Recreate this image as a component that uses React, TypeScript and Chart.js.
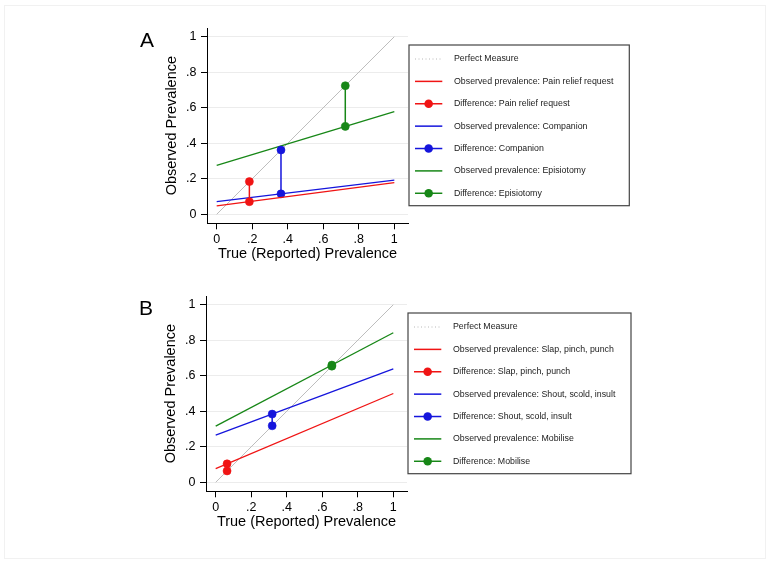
import React, { useEffect, useRef } from 'react';
import { Chart, registerables } from 'chart.js';

Chart.register(...registerables);

// ---------- data ----------
const tickValues = [0, 0.2, 0.4, 0.6, 0.8, 1];
const tickLabels = ['0', '.2', '.4', '.6', '.8', '1'];
const perfectX = [0, 1];
const perfectY = [0, 1];
const lineX = [0, 1];
const seriesColors = ['#f01414', '#1515dc', '#178717'];

// Panel A
const aCategories = ['Pain relief request', 'Companion', 'Episiotomy'];
const aObservedStart = [0.047, 0.071, 0.276];
const aObservedEnd = [0.178, 0.193, 0.578];
const aTrue = [0.184, 0.362, 0.724];
const aObservedAtTrue = [0.071, 0.115, 0.495];

// Panel B
const bCategories = ['Slap, pinch, punch', 'Shout, scold, insult', 'Mobilise'];
const bObservedStart = [0.077, 0.265, 0.316];
const bObservedEnd = [0.5, 0.639, 0.842];
const bTrue = [0.064, 0.318, 0.654];
const bObservedAtTrue = [0.104, 0.384, 0.66];

const FONT = "'Liberation Sans', Arial, Helvetica, sans-serif";

type Panel = {
  letter: string;
  categories: string[];
  obsStart: number[];
  obsEnd: number[];
  trueVals: number[];
  obsAt: number[];
  legendWidth: number;
};

const panelA: Panel = {
  letter: 'A',
  categories: aCategories,
  obsStart: aObservedStart,
  obsEnd: aObservedEnd,
  trueVals: aTrue,
  obsAt: aObservedAtTrue,
  legendWidth: 220.3,
};
const panelB: Panel = {
  letter: 'B',
  categories: bCategories,
  obsStart: bObservedStart,
  obsEnd: bObservedEnd,
  trueVals: bTrue,
  obsAt: bObservedAtTrue,
  legendWidth: 223,
};

const panelPlugin = {
  id: 'panelDecor',
  afterDraw(chart: any) {
    const opts = chart.options.plugins.panelDecor;
    const ctx = chart.ctx as CanvasRenderingContext2D;
    ctx.save();
    // panel letter
    ctx.fillStyle = '#000';
    ctx.font = `21px ${FONT}`;
    ctx.textBaseline = 'alphabetic';
    ctx.textAlign = 'left';
    ctx.fillText(opts.letter, 140, 46.7);

    // legend box
    const left = 409;
    const top = 45;
    const height = 160.7;
    ctx.fillStyle = '#fff';
    ctx.fillRect(left, top, opts.legendWidth, height);
    ctx.strokeStyle = '#444';
    ctx.lineWidth = 1.2;
    ctx.strokeRect(left, top, opts.legendWidth, height);

    const rowStart = 59;
    const rowStep = 22.38;
    const symX0 = 415;
    const symX1 = 442.3;
    const textX = 454;
    chart.data.datasets.forEach((ds: any, i: number) => {
      const y = rowStart + i * rowStep;
      ctx.save();
      ctx.strokeStyle = ds.legendColor || ds.borderColor;
      ctx.lineWidth = ds.legendDash ? 1 : 1.5;
      if (ds.legendDash) ctx.setLineDash(ds.legendDash);
      ctx.beginPath();
      ctx.moveTo(symX0, y);
      ctx.lineTo(symX1, y);
      ctx.stroke();
      ctx.restore();
      if (ds.pointRadius > 0) {
        ctx.fillStyle = ds.borderColor;
        ctx.beginPath();
        ctx.arc((symX0 + symX1) / 2, y, 4.3, 0, Math.PI * 2);
        ctx.fill();
      }
      ctx.fillStyle = '#1a1a1a';
      ctx.font = `8.8px ${FONT}`;
      ctx.textBaseline = 'middle';
      ctx.textAlign = 'left';
      ctx.fillText(ds.label, textX, y);
    });
    ctx.restore();
  },
};

function buildConfig(p: Panel): any {
  const datasets: any[] = [
    {
      label: 'Perfect Measure',
      data: perfectX.map((x, i) => ({ x, y: perfectY[i] })),
      borderColor: '#bdbdbd',
      legendColor: '#b8b8b8',
      legendDash: [1, 2.5],
      borderWidth: 1,
      pointRadius: 0,
      order: 1,
    },
  ];
  p.categories.forEach((c, i) => {
    datasets.push({
      label: 'Observed prevalence: ' + c,
      data: lineX.map((x, j) => ({ x, y: j === 0 ? p.obsStart[i] : p.obsEnd[i] })),
      borderColor: seriesColors[i],
      borderWidth: 1.3,
      pointRadius: 0,
      order: 0,
    });
    datasets.push({
      label: 'Difference: ' + c,
      data: [
        { x: p.trueVals[i], y: p.trueVals[i] },
        { x: p.trueVals[i], y: p.obsAt[i] },
      ],
      borderColor: seriesColors[i],
      backgroundColor: seriesColors[i],
      borderWidth: 1.5,
      pointRadius: 4,
      pointBorderWidth: 0.6,
      pointHoverRadius: 4,
      order: 0,
    });
  });

  const tickFont = { family: FONT, size: 12.5 };
  const titleFont = { family: FONT, size: 14.5 };
  const labelFor = (v: number) => {
    const idx = tickValues.findIndex((t) => Math.abs(t - v) < 1e-9);
    return idx >= 0 ? tickLabels[idx] : '';
  };

  return {
    type: 'line',
    data: { datasets },
    plugins: [panelPlugin],
    options: {
      animation: false,
      responsive: false,
      maintainAspectRatio: false,
      events: [],
      layout: { padding: { left: 160, top: 28, right: 364, bottom: 4.7 } },
      plugins: {
        legend: { display: false },
        tooltip: { enabled: false },
        panelDecor: { letter: p.letter, legendWidth: p.legendWidth },
      },
      scales: {
        x: {
          type: 'linear',
          min: -0.0546,
          max: 1.0771,
          afterBuildTicks: (s: any) => {
            s.ticks = tickValues.map((v) => ({ value: v }));
          },
          afterFit: (s: any) => {
            s.height = 40;
          },
          ticks: {
            callback: (v: number) => labelFor(v),
            font: tickFont,
            color: '#000',
            padding: 2.4,
            autoSkip: false,
            maxRotation: 0,
          },
          grid: {
            drawOnChartArea: false,
            drawTicks: true,
            tickLength: 6,
            tickColor: '#000',
            tickWidth: 1,
          },
          border: { display: true, color: '#000', width: 1 },
          title: {
            display: true,
            text: 'True (Reported) Prevalence',
            font: titleFont,
            color: '#000',
            padding: { top: 0, bottom: 1 },
          },
        },
        y: {
          type: 'linear',
          min: -0.0507,
          max: 1.049,
          afterBuildTicks: (s: any) => {
            s.ticks = tickValues.map((v) => ({ value: v }));
          },
          afterFit: (s: any) => {
            s.width = 47;
          },
          ticks: {
            callback: (v: number) => labelFor(v),
            font: tickFont,
            color: '#000',
            padding: 4.5,
            autoSkip: false,
          },
          grid: {
            drawOnChartArea: true,
            color: '#ececec',
            lineWidth: 1,
            drawTicks: true,
            tickLength: 6,
            tickColor: '#000',
            tickWidth: 1,
          },
          border: { display: true, color: '#000', width: 1 },
          title: {
            display: true,
            text: 'Observed Prevalence',
            font: titleFont,
            color: '#000',
            padding: { top: 3.3, bottom: 0 },
          },
        },
      },
    },
  };
}

function PanelChart({ panel, left, top }: { panel: Panel; left: number; top: number }) {
  const ref = useRef<HTMLCanvasElement | null>(null);
  useEffect(() => {
    if (!ref.current) return;
    const chart = new Chart(ref.current, buildConfig(panel));
    return () => chart.destroy();
  }, [panel]);
  return (
    <canvas
      ref={ref}
      width={772}
      height={268}
      style={{ position: 'absolute', left, top, width: 772, height: 268 }}
    />
  );
}

export default function App() {
  return (
    <div
      style={{
        position: 'absolute',
        left: 0,
        top: 0,
        width: 772,
        height: 562,
        background: '#fff',
        overflow: 'hidden',
      }}
    >
      <div
        style={{
          position: 'absolute',
          left: 4,
          top: 5,
          width: 762,
          height: 554,
          border: '1px solid #f1f1f1',
          boxSizing: 'border-box',
        }}
      />
      <PanelChart panel={panelA} left={0} top={0} />
      <PanelChart panel={panelB} left={-1} top={268} />
    </div>
  );
}
